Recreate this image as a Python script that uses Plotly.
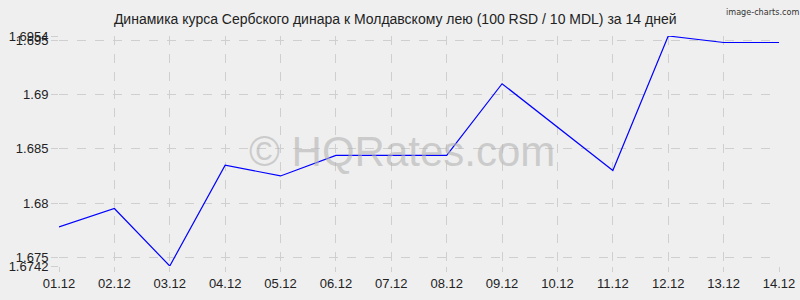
import plotly.graph_objects as go

dates = ["01.12", "02.12", "03.12", "04.12", "05.12", "06.12", "07.12",
         "08.12", "09.12", "10.12", "11.12", "12.12", "13.12", "14.12"]
rates = [1.6778, 1.6795, 1.6742, 1.6835, 1.6825, 1.6844, 1.6844,
         1.6844, 1.6910, 1.6870, 1.6830, 1.6954, 1.6948, 1.6948]
y_ticks = [1.6742, 1.675, 1.68, 1.685, 1.69, 1.695, 1.6954]
y_ticktext = ["1.6742", "1.675", "1.68", "1.685", "1.69", "1.695", "1.6954"]
title = "Динамика курса Сербского динара к Молдавскому лею (100 RSD / 10 MDL) за 14 дней"

fig = go.Figure()
fig.add_trace(go.Scatter(
    x=list(range(len(dates))), y=rates, mode="lines",
    line=dict(color="#0000ff", width=1.2), hoverinfo="skip"))

grid = "#cfcfcf"
fig.update_layout(
    width=800, height=300,
    margin=dict(l=59, r=21, t=36, b=34),
    paper_bgcolor="#efefef", plot_bgcolor="#efefef",
    showlegend=False,
    font=dict(family="Liberation Sans, Arial, sans-serif", size=13, color="#222"),
    title=dict(text=title, x=0.494, xanchor="center", y=0.935, yanchor="middle",
               font=dict(size=14, color="#222")),
    xaxis=dict(range=[0, len(dates) - 1], tickvals=list(range(len(dates))),
               ticktext=dates, showgrid=True, gridcolor=grid, griddash="dash",
               gridwidth=1, zeroline=False, showline=False, automargin=False,
               ticks="outside", ticklen=5, tickcolor=grid, tickwidth=1,
               ticklabelstandoff=0, tickfont=dict(size=13, color="#222")),
    yaxis=dict(range=[y_ticks[0], y_ticks[-1]], tickvals=y_ticks, ticktext=y_ticktext,
               showgrid=True, gridcolor=grid, griddash="dash", gridwidth=1,
               zeroline=False, showline=False, automargin=False,
               ticks="outside", ticklen=7, tickcolor=grid, tickwidth=1,
               ticklabelstandoff=0, tickfont=dict(size=13, color="#222")),
    annotations=[
        dict(text="© HQRates.com", x=0.476, y=0.5, xref="paper", yref="paper",
             showarrow=False, font=dict(size=42, color="rgba(180,180,180,0.6)",
                                        family="Liberation Sans, Arial, sans-serif")),
        dict(text="image-charts.com", x=1, y=1, xref="paper", yref="paper",
             xanchor="right", yanchor="top", yshift=31, xshift=22, showarrow=False,
             font=dict(size=9, color="#333", family="DejaVu Sans Condensed, Liberation Sans Narrow, sans-serif")),
    ],
)

fig.write_html("out.html")
